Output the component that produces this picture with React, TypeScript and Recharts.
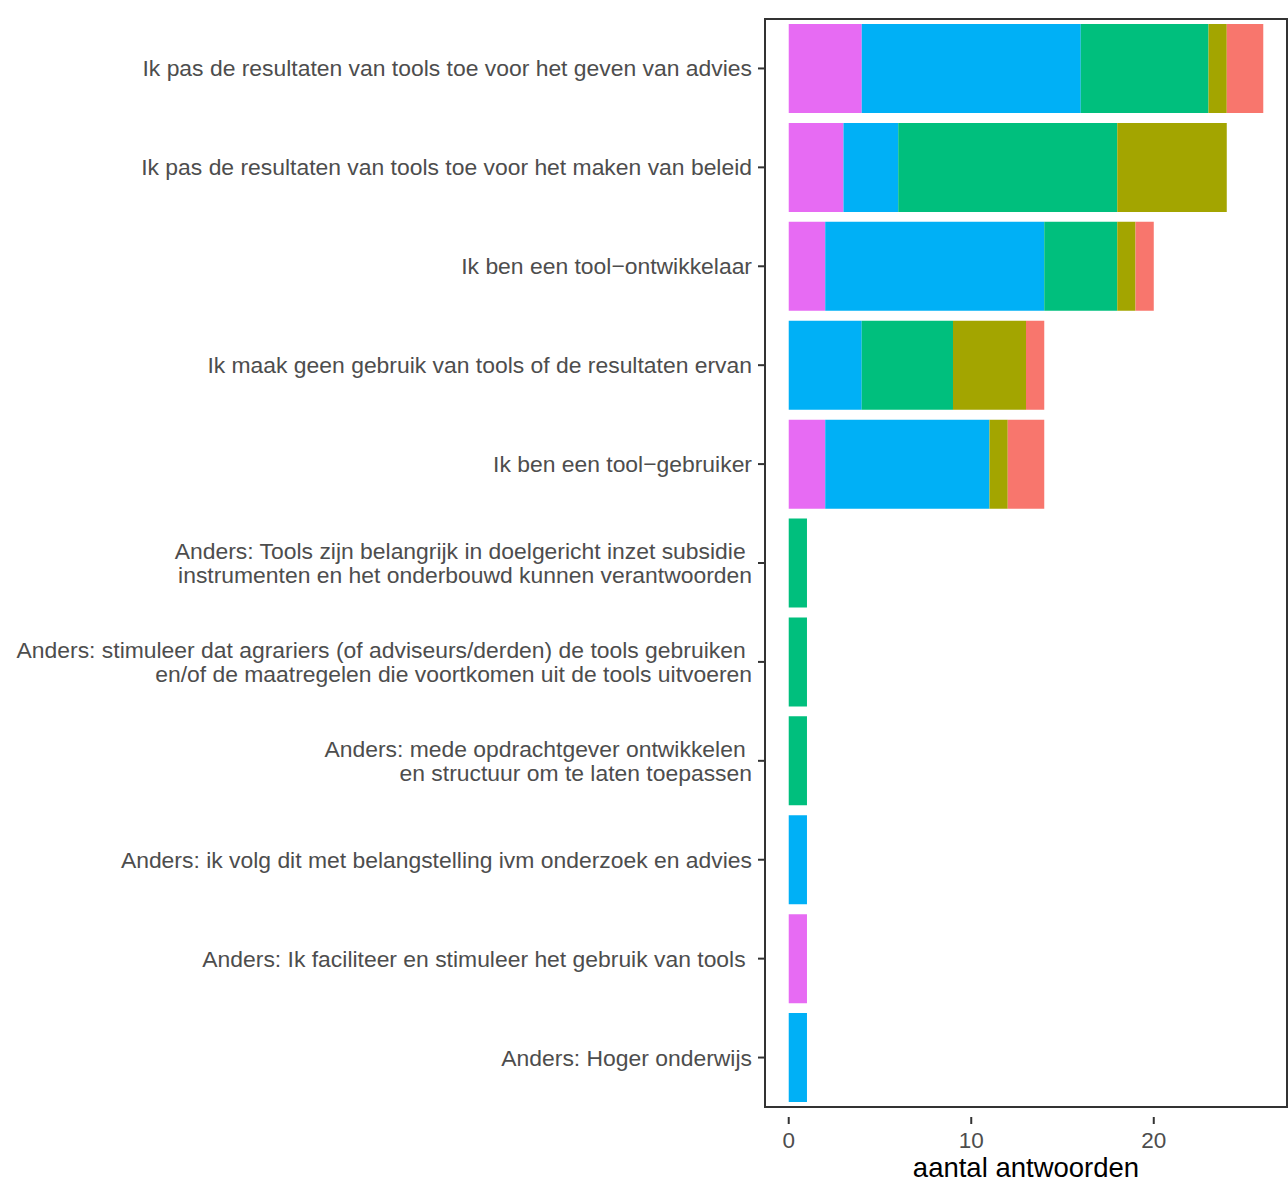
import React from 'react'
import { BarChart, Bar, XAxis, YAxis, ReferenceArea } from 'recharts'

// categories, top to bottom
const categories = [
  'Ik pas de resultaten van tools toe voor het geven van advies',
  'Ik pas de resultaten van tools toe voor het maken van beleid',
  'Ik ben een tool\u2212ontwikkelaar',
  'Ik maak geen gebruik van tools of de resultaten ervan',
  'Ik ben een tool\u2212gebruiker',
  'Anders: Tools zijn belangrijk in doelgericht inzet subsidie \ninstrumenten en het onderbouwd kunnen verantwoorden',
  'Anders: stimuleer dat agrariers (of adviseurs/derden) de tools gebruiken \nen/of de maatregelen die voortkomen uit de tools uitvoeren',
  'Anders: mede opdrachtgever ontwikkelen \nen structuur om te laten toepassen',
  'Anders: ik volg dit met belangstelling ivm onderzoek en advies',
  'Anders: Ik faciliteer en stimuleer het gebruik van tools ',
  'Anders: Hoger onderwijs',
]

// stacked segments, left to right
const roze = [4, 3, 2, 0, 2, 0, 0, 0, 0, 1, 0]
const blauw = [12, 3, 12, 4, 9, 0, 0, 0, 1, 0, 1]
const groen = [7, 12, 4, 5, 0, 1, 1, 1, 0, 0, 0]
const olijf = [1, 6, 1, 4, 1, 0, 0, 0, 0, 0, 0]
const zalm = [2, 0, 1, 1, 2, 0, 0, 0, 0, 0, 0]

const xTicks = [0, 10, 20]

const data = categories.map((label, i) => ({
  label,
  roze: roze[i],
  blauw: blauw[i],
  groen: groen[i],
  olijf: olijf[i],
  zalm: zalm[i],
}))

const font = '"Liberation Sans", Arial, Helvetica, sans-serif'

function YTick(props: any) {
  const { x, y, payload } = props
  const lines = String(payload.value).split('\n')
  const lh = 24.5
  const start = y - ((lines.length - 1) * lh) / 2 + 8
  return (
    <text
      x={x}
      y={start}
      textAnchor="end"
      fill="#4D4D4D"
      fontSize={22.9}
      fontFamily={font}
      xmlSpace="preserve"
    >
      {lines.map((l, i) => (
        <tspan key={i} x={x} y={start + i * lh}>
          {l}
        </tspan>
      ))}
    </text>
  )
}

export default function App() {
  return (
    <div style={{ position: 'absolute', left: 0, top: 0 }}>
      <BarChart
        width={1288}
        height={1182}
        data={data}
        layout="vertical"
        margin={{ top: 9, right: 1, bottom: 0, left: 0 }}
      >
        <XAxis
          type="number"
          domain={[-1.3, 27.3]}
          ticks={xTicks}
          height={65}
          axisLine={false}
          tickLine={{ stroke: '#333333', strokeWidth: 2 }}
          tickSize={7}
          tickMargin={8}
          tick={{ fill: '#4D4D4D', fontSize: 22.5, fontFamily: font }}
          label={{
            value: 'aantal antwoorden',
            position: 'insideBottom',
            offset: 5,
            fill: '#000000',
            fontSize: 27.5,
            fontFamily: font,
          }}
        />
        <YAxis
          type="category"
          dataKey="label"
          width={765}
          padding={{ top: 10, bottom: 10 }}
          axisLine={false}
          tickLine={{ stroke: '#333333', strokeWidth: 2 }}
          tickSize={7}
          tickMargin={6}
          tick={<YTick />}
          interval={0}
        />
        <Bar dataKey="roze" stackId="s" fill="#E76BF3" barSize={89} isAnimationActive={false} />
        <Bar dataKey="blauw" stackId="s" fill="#00B0F6" barSize={89} isAnimationActive={false} />
        <Bar dataKey="groen" stackId="s" fill="#00BF7D" barSize={89} isAnimationActive={false} />
        <Bar dataKey="olijf" stackId="s" fill="#A3A500" barSize={89} isAnimationActive={false} />
        <Bar dataKey="zalm" stackId="s" fill="#F8766D" barSize={89} isAnimationActive={false} />
        <ReferenceArea
          x1={-1.3}
          x2={27.3}
          fill="none"
          stroke="#333333"
          strokeWidth={2}
          ifOverflow="visible"
        />
      </BarChart>
    </div>
  )
}
